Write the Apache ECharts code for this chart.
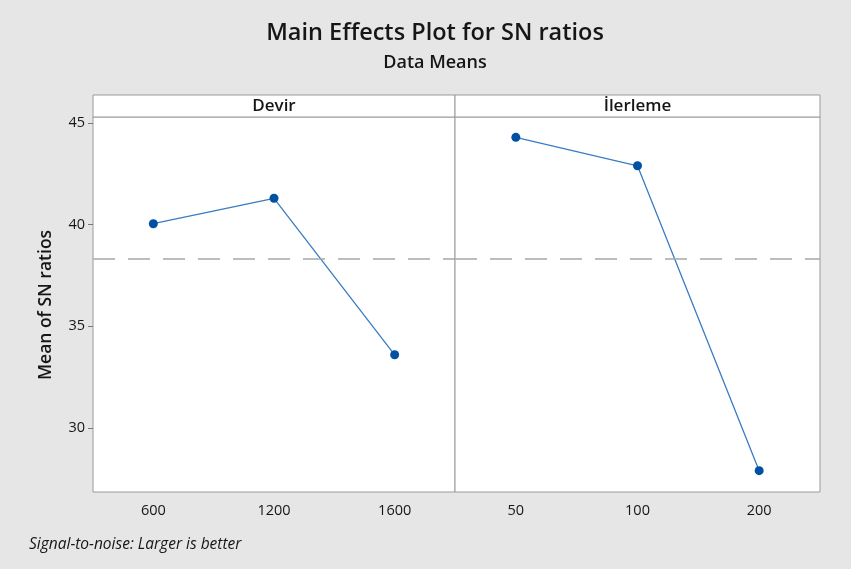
<!DOCTYPE html>
<html>
<head>
<meta charset="utf-8">
<script src="https://cdn.jsdelivr.net/npm/echarts@6/dist/echarts.min.js"></script>
<style>
  html, body { margin: 0; padding: 0; background: #e6e6e6; }
  #chart { width: 851px; height: 569px; }
</style>
</head>
<body>
<div id="chart"></div>
<script>
// Factor levels and mean SN ratios per level
const devirLevels = ['600', '1200', '1600'];
const devirMeans = [40.05, 41.3, 33.6];
const ilerlemeLevels = ['50', '100', '200'];
const ilerlemeMeans = [44.3, 42.9, 27.9];
const grandMean = 38.33;
const yTicks = [30, 35, 40, 45];
const yMin = 26.85, yMax = 45.3;

const FONT = '"Open Sans", "Noto Sans", sans-serif';
const lineColor = '#3a7cc4';
const markColor = '#0050a4';
const frameColor = '#9a9a9a';
const textColor = '#161616';

const P = { left: 93, mid: 455, right: 820, stripTop: 95, top: 117, bottom: 492 };

const chart = echarts.init(document.getElementById('chart'), null, { renderer: 'canvas' });

function yAxisFor(gridIndex, showLabels) {
  return {
    type: 'value', gridIndex, min: yMin, max: yMax,
    axisLine: { show: false },
    splitLine: { show: false },
    axisTick: { show: showLabels, length: 5, lineStyle: { color: '#777' }, customValues: yTicks },
    axisLabel: { show: showLabels, customValues: yTicks, fontFamily: FONT, fontSize: 14.5, color: textColor, margin: 8 }
  };
}
function xAxisFor(gridIndex, levels) {
  return {
    type: 'category', gridIndex, data: levels, boundaryGap: true,
    axisLine: { show: false },
    axisTick: { alignWithLabel: true, length: 5, lineStyle: { color: '#777' } },
    axisLabel: { fontFamily: FONT, fontSize: 14.5, color: textColor, margin: 11 }
  };
}
function seriesFor(idx, values) {
  return {
    type: 'line', xAxisIndex: idx, yAxisIndex: idx, data: values,
    symbol: 'circle', symbolSize: 9,
    itemStyle: { color: markColor },
    lineStyle: { color: lineColor, width: 1.3 },
    animation: false,
    markLine: {
      silent: true, symbol: 'none', label: { show: false },
      lineStyle: { color: '#a8a8a8', type: [22, 13], width: 1.5 },
      data: [{ yAxis: grandMean }]
    }
  };
}

function label(text, x, y, size, extra) {
  return Object.assign({ type: 'text', x, y, z: 11,
    style: Object.assign({ text, fontFamily: FONT, fontSize: size, fontWeight: 600, fill: textColor,
      align: 'center', verticalAlign: 'middle' }, extra || {}) });
}

chart.setOption({
  backgroundColor: '#e6e6e6',
  animation: false,
  grid: [
    { left: P.left, top: P.top, width: P.mid - P.left, height: P.bottom - P.top,
      show: true, backgroundColor: '#fff', borderColor: frameColor, borderWidth: 1 },
    { left: P.mid, top: P.top, width: P.right - P.mid, height: P.bottom - P.top,
      show: true, backgroundColor: '#fff', borderColor: frameColor, borderWidth: 1 }
  ],
  xAxis: [xAxisFor(0, devirLevels), xAxisFor(1, ilerlemeLevels)],
  yAxis: [yAxisFor(0, true), yAxisFor(1, false)],
  series: [seriesFor(0, devirMeans), seriesFor(1, ilerlemeMeans)],
  graphic: [
    // titles
    label('Main Effects Plot for SN ratios', 435, 33, 23.5),
    label('Data Means', 435, 63, 18),
    // panel header strips
    { type: 'rect', shape: { x: P.left, y: P.stripTop, width: P.mid - P.left, height: P.top - P.stripTop },
      style: { fill: '#fff', stroke: frameColor, lineWidth: 1 }, z: 10 },
    { type: 'rect', shape: { x: P.mid, y: P.stripTop, width: P.right - P.mid, height: P.top - P.stripTop },
      style: { fill: '#fff', stroke: frameColor, lineWidth: 1 }, z: 10 },
    label('Devir', (P.left + P.mid) / 2, 106, 17),
    label('İlerleme', (P.mid + P.right) / 2, 106, 17),
    // y-axis title
    Object.assign(label('Mean of SN ratios', 46, 305, 17.5), { rotation: Math.PI / 2 }),
    // footnote
    label('Signal-to-noise: Larger is better', 29, 545, 15.5, { fontWeight: 'normal', fontStyle: 'italic', align: 'left' })
  ]
});
</script>
</body>
</html>
